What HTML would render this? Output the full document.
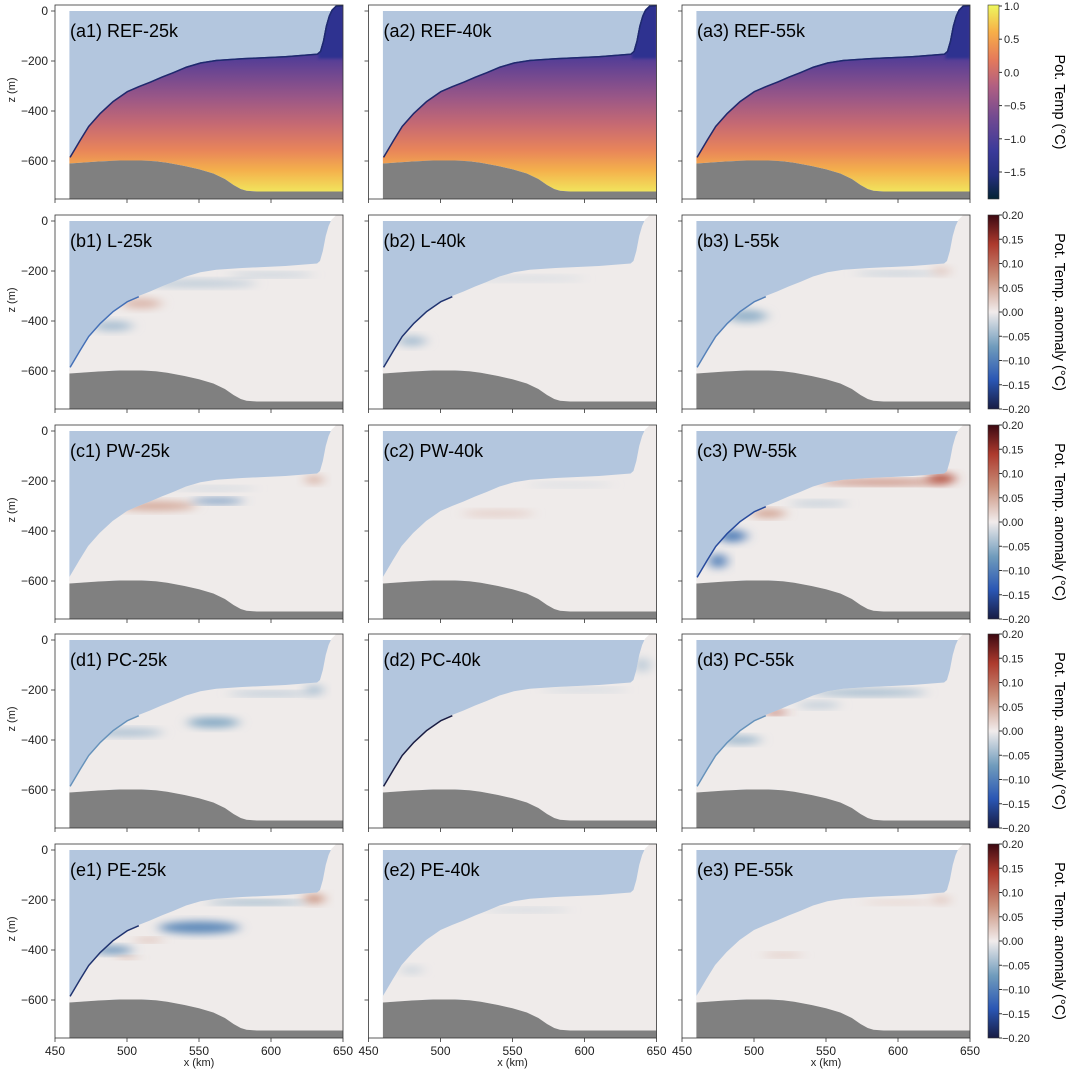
<!DOCTYPE html>
<html><head><meta charset="utf-8"><style>
body{margin:0;background:#fff;}
svg{display:block;font-family:"Liberation Sans","DejaVu Sans",sans-serif;}
</style></head><body>
<svg id="fig" width="1068" height="1071" viewBox="0 0 1068 1071" xmlns="http://www.w3.org/2000/svg">
<defs>
<filter id="blur" x="-50%" y="-50%" width="200%" height="200%"><feGaussianBlur stdDeviation="6 4"/></filter>
<filter id="blur2" x="-50%" y="-50%" width="200%" height="200%"><feGaussianBlur stdDeviation="1.2"/></filter>
<linearGradient id="thermalCb" x1="0" y1="1" x2="0" y2="0">
<stop offset="0" stop-color="#042333"/><stop offset="0.12" stop-color="#252f7e"/><stop offset="0.25" stop-color="#3b3a9a"/>
<stop offset="0.42" stop-color="#724a91"/><stop offset="0.58" stop-color="#b05f82"/><stop offset="0.72" stop-color="#e57a5a"/>
<stop offset="0.86" stop-color="#f7ae48"/><stop offset="1" stop-color="#eef85e"/></linearGradient>
<linearGradient id="balanceCb" x1="0" y1="1" x2="0" y2="0">
<stop offset="0" stop-color="#181c43"/><stop offset="0.15" stop-color="#2a56b4"/><stop offset="0.32" stop-color="#6f9bbc"/>
<stop offset="0.5" stop-color="#f1ecec"/><stop offset="0.68" stop-color="#c98e79"/><stop offset="0.85" stop-color="#ad3a2d"/>
<stop offset="1" stop-color="#3c0912"/></linearGradient>
</defs>
</svg>
<script>
// ---- data ----
const iceX = [460,463,467,473,481,490,500,508,516,524,532,541,551,562,580,610,632,634,636,638,640,642,645,650];
const iceZ = [-584,-555,-516,-460,-408,-360,-320,-300,-282,-262,-244,-222,-205,-195,-188,-180,-170,-160,-120,-60,-20,5,22,24];
const bathyX = [460,470,480,495,510,520,528,540,550,560,568,574,579,583,590,650];
const bathyZ = [-610,-606,-602,-598,-598,-601,-607,-620,-633,-650,-672,-696,-712,-719,-722,-722];
const xTicks = [450,500,550,600,650];
const zTicks = [0,-200,-400,-600];
const tempTicks = [1.0,0.5,0.0,-0.5,-1.0,-1.5];
const tempTickLabels = ["1.0","0.5","0.0","\u22120.5","\u22121.0","\u22121.5"];
const anomTicks = [0.2,0.15,0.1,0.05,0,-0.05,-0.1,-0.15,-0.2];
const anomTickLabels = ["0.20","0.15","0.10","0.05","0.00","\u22120.05","\u22120.10","\u22120.15","\u22120.20"];
const rowLetters = ["a","b","c","d","e"];
const rowNames = ["REF","L","PW","PC","PE"];
const colNames = ["25k","40k","55k"];
// anomaly features per panel: [x km, z m, rx km, rz m, value]
const features = {
 b1:[[510,-330,14,20,0.04],[550,-250,40,14,-0.03],[600,-215,30,8,-0.03],[490,-420,14,20,-0.04]],
 b2:[[560,-230,40,10,-0.015],[480,-480,10,20,-0.04]],
 b3:[[495,-380,14,25,-0.05],[600,-210,30,8,-0.03],[630,-200,6,15,0.03]],
 c1:[[520,-300,28,18,0.05],[563,-280,18,10,-0.09],[630,-195,6,15,0.05],[560,-230,30,8,-0.02]],
 c2:[[540,-330,25,12,0.025],[590,-215,30,8,-0.015]],
 c3:[[590,-205,45,10,0.09],[630,-190,10,20,0.12],[485,-420,10,25,-0.1],[510,-330,12,15,0.06],[475,-520,6,30,-0.1],[545,-290,20,10,-0.03]],
 d1:[[560,-330,18,20,-0.06],[500,-370,25,15,-0.04],[600,-215,30,8,-0.04],[630,-200,6,20,-0.04]],
 d2:[[600,-200,30,8,-0.02],[640,-100,5,30,-0.03]],
 d3:[[580,-210,40,12,-0.05],[515,-290,8,8,0.12],[490,-400,15,15,-0.05],[545,-260,15,12,-0.03]],
 e1:[[550,-310,28,25,-0.09],[490,-400,14,15,-0.08],[500,-430,8,6,0.05],[630,-195,7,18,0.07],[590,-210,35,8,-0.06],[515,-360,10,8,0.04]],
 e2:[[560,-240,30,8,-0.02],[480,-480,8,15,-0.02]],
 e3:[[520,-420,14,8,0.03],[600,-210,25,8,0.02],[630,-200,6,15,0.03]]
};
const slopeVal = {b1:-0.12,b2:-0.18,b3:-0.1,c1:0,c2:0,c3:-0.16,d1:-0.08,d2:-0.2,d3:-0.08,e1:-0.18,e2:0,e3:0};

// ---- layout ----
const NS="http://www.w3.org/2000/svg";
const svg=document.getElementById('fig');
const colLeft=[55,368.5,682], W=288, rowTop=[5,215,425,634,844], H=194;
function mk(tag,attrs,parent){const e=document.createElementNS(NS,tag);for(const k in attrs)e.setAttribute(k,attrs[k]);(parent||svg).appendChild(e);return e;}
function anomColor(v){
  const stops=[[-0.2,[24,28,67]],[-0.15,[42,86,180]],[-0.07,[111,155,188]],[0,[241,236,236]],[0.07,[201,142,121]],[0.14,[173,58,45]],[0.2,[60,9,18]]];
  v=Math.max(-0.2,Math.min(0.2,v));
  for(let i=0;i<stops.length-1;i++){const a=stops[i],b=stops[i+1];if(v<=b[0]){const t=(v-a[0])/(b[0]-a[0]);const c=a[1].map((x,j)=>Math.round(x+(b[1][j]-x)*t));return `rgb(${c})`;}}
  return 'rgb(60,9,18)';
}

for(let r=0;r<5;r++){for(let c=0;c<3;c++){
  const L=colLeft[c],T=rowTop[r];
  const xs=k=>L+(k-450)*1.44, zs=z=>T+6-z*0.25;
  const key=rowLetters[r]+(c+1);
  const g=mk('g',{});
  
  
  const cid='clip-'+key;
  const cp=mk('clipPath',{id:cid},g);
  let pts=iceX.map((x,i)=>`${xs(x)},${zs(iceZ[i])}`);
  pts.push(`${xs(650)},${T}`,`${xs(650)},${zs(-720)}`);
  for(let i=bathyX.length-1;i>=0;i--)pts.push(`${xs(bathyX[i])},${zs(bathyZ[i])}`);
  mk('polygon',{points:pts.join(' ')},cp);
  const lb=mk('rect',{x:xs(460),y:zs(0),width:xs(650)-xs(460),height:zs(-600)-zs(0),fill:'#b3c6de'},g);
  
  
  const wg=mk('g',{'clip-path':`url(#${cid})`},g);
  const slopeN=8;
  if(r===0){
    const gid='tg-'+key;
    const lg=mk('linearGradient',{id:gid,gradientUnits:'userSpaceOnUse',x1:0,y1:zs(-170),x2:0,y2:zs(-720)},g);
    [[0,'#4a3a98'],[0.12,'#6a4592'],[0.32,'#9a5787'],[0.52,'#c76a72'],[0.7,'#e8845a'],[0.85,'#f4b04c'],[1,'#f2e35c']].forEach(s=>mk('stop',{offset:s[0],'stop-color':s[1]},lg));
    mk('rect',{x:xs(450),y:T,width:W,height:H,fill:`url(#${gid})`},wg);
    mk('rect',{x:xs(633),y:T,width:xs(650)-xs(633),height:zs(-190)-T,fill:'#2e3190',filter:'url(#blur2)'},wg);
    mk('polyline',{points:iceX.map((x,i)=>`${xs(x)},${zs(iceZ[i])}`).join(' '),fill:'none',stroke:'#1e2a6e',"stroke-width":3,'stroke-linejoin':'round'},wg);
  } else {
    mk('rect',{x:xs(450),y:T,width:W,height:H,fill:'#efebea'},wg);
    features[key].forEach(f=>{
      const e=mk('ellipse',{cx:xs(f[0]),cy:zs(f[1]),rx:f[2]*1.44,ry:f[3]*0.25,fill:anomColor(f[4]),filter:'url(#blur)'},wg);
      
      
    });
    if(slopeVal[key]!==0){
      const sx=iceX.slice(0,slopeN), sz=iceZ.slice(0,slopeN);
      mk('polyline',{points:sx.map((x,i)=>`${xs(x)},${zs(sz[i])}`).join(' '),fill:'none',stroke:anomColor(slopeVal[key]),"stroke-width":3,'stroke-linejoin':'round'},wg);
    }
  }
  let bp=bathyX.map((x,i)=>`${xs(x)},${zs(bathyZ[i])}`);bp.push(`${xs(650)},${T+H}`,`${xs(460)},${T+H}`);
  const bt=mk('polygon',{points:bp.join(' '),fill:'#808080'},g);
  
  
  mk('rect',{x:L,y:T,width:W,height:H,fill:'none',stroke:'#333','stroke-width':0.8},g);
  zTicks.forEach(z=>{mk('line',{x1:L-4,x2:L,y1:zs(z),y2:zs(z),stroke:'#333','stroke-width':0.8},g);
    if(c===0){const t=mk('text',{x:L-7,y:zs(z)+4,'text-anchor':'end','font-size':12,fill:'#222'},g);t.textContent=z===0?'0':'\u2212'+(-z);
      
      }});
  xTicks.forEach(x=>{mk('line',{x1:xs(x),x2:xs(x),y1:T+H,y2:T+H+4,stroke:'#333','stroke-width':0.8},g);
    if(r===4){const t=mk('text',{x:xs(x),y:T+H+17,'text-anchor':'middle','font-size':12,fill:'#222'},g);t.textContent=x;
      
      }});
  const lab=mk('text',{x:L+15,y:T+32,'font-size':18,fill:'#000'},g);
  lab.textContent=`(${key}) ${rowNames[r]}-${colNames[c]}`;
  
  
  if(c===0){const yl=mk('text',{x:0,y:0,'font-size':11,fill:'#222','text-anchor':'middle',transform:`translate(15,${T+H/2-12}) rotate(-90)`},g);yl.textContent='z (m)';
    
    }
  if(r===4){const xl=mk('text',{x:L+W/2,y:1066,'font-size':11,fill:'#222','text-anchor':'middle'},g);xl.textContent='x (km)';
    
    }
}
const cb=mk('g',{});


const T=rowTop[r], cx=988, cw=11;
mk('rect',{x:cx,y:T,width:cw,height:H,fill:r===0?'url(#thermalCb)':'url(#balanceCb)',stroke:'#333','stroke-width':0.6},cb);
if(r===0){
  const ys=v=>T+1+(1.0-v)*66.4;
  tempTicks.forEach((v,i)=>{mk('line',{x1:cx+cw,x2:cx+cw+3,y1:ys(v),y2:ys(v),stroke:'#333'},cb);
    const t=mk('text',{x:cx+cw+5,y:ys(v)+4,'font-size':11,fill:'#222'},cb);t.textContent=tempTickLabels[i];});
} else {
  const ys=v=>T+(0.2-v)/0.4*H;
  anomTicks.forEach((v,i)=>{mk('line',{x1:cx+cw,x2:cx+cw+3,y1:ys(v),y2:ys(v),stroke:'#333'},cb);
    const t=mk('text',{x:cx+cw+3,y:ys(v)+4,'font-size':11,fill:'#222'},cb);t.textContent=anomTickLabels[i];});
}
const ct=mk('text',{x:0,y:0,'font-size':14.5,fill:'#000','text-anchor':'middle',transform:`translate(1055,${T+H/2}) rotate(90)`},cb);
ct.textContent=r===0?'Pot. Temp (\u00B0C)':'Pot. Temp. anomaly (\u00B0C)';
}
</script>
</body></html>
